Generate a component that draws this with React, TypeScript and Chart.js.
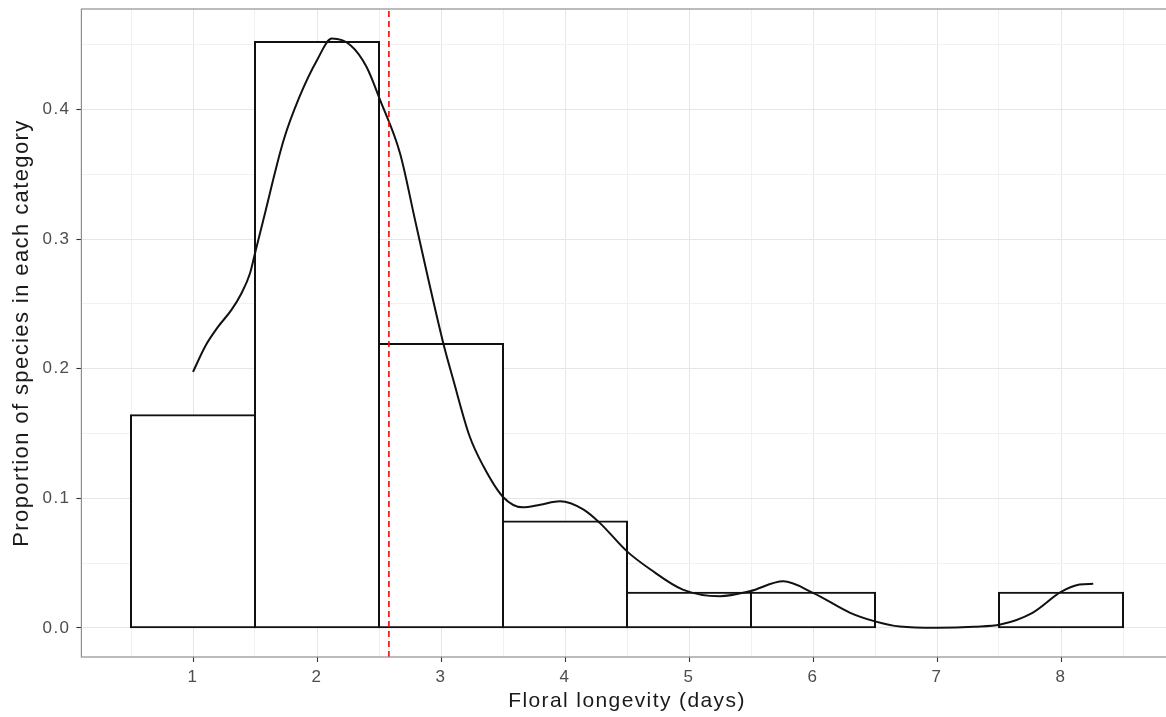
import React, { useEffect, useRef } from "react";
import { Chart, registerables } from "chart.js";

Chart.register(...registerables);

// ---- data ----
const BIN_CENTERS = [1, 2, 3, 4, 5, 6, 7, 8];
const PROPORTIONS = [0.164, 0.452, 0.219, 0.082, 0.027, 0.027, 0, 0.027];

const DENSITY_X = [
  1.0, 1.1, 1.2, 1.31, 1.39, 1.46, 1.5, 1.567, 1.73, 1.86, 2.0, 2.12, 2.27, 2.4, 2.51,
  2.67, 2.79, 2.9, 3.02, 3.1, 3.23, 3.34, 3.5, 3.66, 3.8, 3.96, 4.15, 4.28, 4.5, 4.69,
  4.95, 5.25, 5.49, 5.76, 6.0, 6.3, 6.5, 6.7, 7.0, 7.3, 7.51, 7.77, 8.0, 8.15, 8.26,
];
const DENSITY_Y = [
  0.1975, 0.2175, 0.232, 0.2453, 0.258, 0.2736, 0.289, 0.3147, 0.376, 0.41, 0.438, 0.4547, 0.4496, 0.4328, 0.407,
  0.366, 0.315, 0.268, 0.219, 0.191, 0.148, 0.125, 0.101, 0.093, 0.095, 0.0976, 0.0912, 0.081, 0.059, 0.045,
  0.0295, 0.0244, 0.0282, 0.0359, 0.027, 0.0116, 0.005, 0.001, 0.0, 0.0008, 0.0025, 0.0116, 0.0277, 0.0334, 0.034,
];

const MEAN_LONGEVITY = 2.58;

const X_MAJOR = [1, 2, 3, 4, 5, 6, 7, 8];
const X_MINOR = [0.5, 1.5, 2.5, 3.5, 4.5, 5.5, 6.5, 7.5, 8.5];
const Y_MAJOR = [0, 0.1, 0.2, 0.3, 0.4];
const Y_MINOR = [0.05, 0.15, 0.25, 0.35, 0.45];
const X_LIMITS = [0.1, 8.9];
const Y_LIMITS = [-0.0225, 0.4775];

const X_TITLE = "Floral longevity (days)";
const Y_TITLE = "Proportion of species in each category";

// ---- styling ----
const FONT = "'Liberation Sans', Arial, Helvetica, sans-serif";
const MAJOR_GRID = "#e6e6e6";
const MINOR_GRID = "#f1f1f1";

const isMajor = (v: number, list: number[]) => list.some((m) => Math.abs(m - v) < 1e-9);

const textSpacing = {
  id: "textSpacing",
  beforeUpdate(chart: any) {
    chart.ctx.letterSpacing = "1.4px";
  },
  beforeDraw(chart: any) {
    chart.ctx.letterSpacing = "1.4px";
  },
};

const panelBorder = {
  id: "panelBorder",
  afterDraw(chart: any) {
    const { ctx, chartArea } = chart;
    const { left, top, right, bottom } = chartArea;
    ctx.save();
    ctx.strokeStyle = "#8f8f8f";
    ctx.lineWidth = 1.2;
    ctx.strokeRect(left, top, right - left, bottom - top);
    ctx.restore();
  },
};

const zeroPadding = (scale: any) => {
  scale.paddingTop = 0;
  scale.paddingBottom = 0;
  scale.paddingLeft = 0;
  scale.paddingRight = 0;
};

export default function App() {
  const canvasRef = useRef<HTMLCanvasElement | null>(null);

  useEffect(() => {
    if (!canvasRef.current) return;
    const chart = new Chart(canvasRef.current, {
      type: "bar",
      data: {
        datasets: [
          {
            type: "line",
            label: "mean",
            data: [
              { x: MEAN_LONGEVITY, y: Y_LIMITS[0] },
              { x: MEAN_LONGEVITY, y: Y_LIMITS[1] },
            ],
            borderColor: "#ff0000",
            borderWidth: 1.6,
            borderDash: [6, 4],
            pointRadius: 0,
            order: 1,
          } as any,
          {
            type: "line",
            label: "density",
            data: DENSITY_X.map((x, i) => ({ x, y: DENSITY_Y[i] })),
            borderColor: "#111111",
            borderWidth: 2,
            pointRadius: 0,
            cubicInterpolationMode: "monotone",
            fill: false,
            order: 2,
          } as any,
          {
            type: "bar",
            label: "proportion",
            data: BIN_CENTERS.map((x, i) => ({ x, y: PROPORTIONS[i] })),
            backgroundColor: "#ffffff",
            borderColor: "#111111",
            borderWidth: 2,
            borderSkipped: false,
            inflateAmount: 1,
            barPercentage: 1,
            categoryPercentage: 1,
            order: 3,
          } as any,
        ],
      },
      options: {
        animation: false,
        responsive: false,
        maintainAspectRatio: false,
        events: [],
        layout: { padding: { left: 0, top: 9, right: 17.4, bottom: 0 } },
        plugins: {
          legend: { display: false },
          tooltip: { enabled: false },
        },
        scales: {
          xMinor: {
            type: "linear",
            position: "bottom",
            weight: 10,
            min: X_LIMITS[0],
            max: X_LIMITS[1],
            offset: false,
            afterBuildTicks: (scale: any) => {
              scale.ticks = X_MINOR.map((v) => ({ value: v }));
            },
            afterFit: (scale: any) => {
              scale.height = 0;
              zeroPadding(scale);
            },
            ticks: { display: false },
            grid: { color: MINOR_GRID, lineWidth: 1, drawTicks: false, offset: false },
            border: { display: false },
          },
          x: {
            type: "linear",
            position: "bottom",
            weight: 0,
            min: X_LIMITS[0],
            max: X_LIMITS[1],
            offset: false,
            afterBuildTicks: (scale: any) => {
              scale.ticks = X_MAJOR.map((v) => ({ value: v }));
            },
            afterFit: (scale: any) => {
              scale.height = 60;
              zeroPadding(scale);
            },
            ticks: {
              autoSkip: false,
              maxRotation: 0,
              padding: 7,
              color: "#4d4d4d",
              font: { family: FONT, size: 17, lineHeight: 1 },
              callback: (v: any) => String(v),
            },
            grid: {
              color: MAJOR_GRID,
              lineWidth: 1,
              offset: false,
              tickLength: 5,
              tickWidth: 1.1,
              tickColor: "#333333",
            },
            border: { display: false },
            title: {
              display: true,
              text: X_TITLE,
              color: "#1a1a1a",
              font: { family: FONT, size: 21, lineHeight: 1.2 },
              padding: { top: 0, bottom: 3 },
            },
          },
          y: {
            type: "linear",
            min: Y_LIMITS[0],
            max: Y_LIMITS[1],
            afterBuildTicks: (scale: any) => {
              scale.ticks = [...Y_MAJOR, ...Y_MINOR].sort((a, b) => a - b).map((v) => ({ value: v }));
            },
            afterFit: (scale: any) => {
              scale.width = 81.4;
              zeroPadding(scale);
            },
            ticks: {
              autoSkip: false,
              padding: 6,
              color: "#4d4d4d",
              font: { family: FONT, size: 17, lineHeight: 1 },
              callback: (v: any) => (isMajor(Number(v), Y_MAJOR) ? Number(v).toFixed(1) : ""),
            },
            grid: {
              color: (ctx: any) => (isMajor(ctx.tick?.value, Y_MAJOR) ? MAJOR_GRID : MINOR_GRID),
              lineWidth: 1,
              tickLength: 5,
              tickWidth: 1.1,
              tickColor: (ctx: any) => (isMajor(ctx.tick?.value, Y_MAJOR) ? "#333333" : "rgba(0,0,0,0)"),
            },
            border: { display: false },
            title: {
              display: true,
              text: Y_TITLE,
              color: "#1a1a1a",
              font: { family: FONT, size: 22, lineHeight: 1.2 },
              padding: { top: 9, bottom: 0 },
            },
          },
        },
      } as any,
      plugins: [textSpacing, panelBorder],
    });
    return () => chart.destroy();
  }, []);

  return (
    <div
      style={{
        position: "fixed",
        left: 0,
        top: 0,
        width: 1166,
        height: 717,
        overflow: "hidden",
        background: "#ffffff",
      }}
    >
      <canvas ref={canvasRef} width={1190} height={717} style={{ display: "block", width: 1190, height: 717 }} />
    </div>
  );
}
